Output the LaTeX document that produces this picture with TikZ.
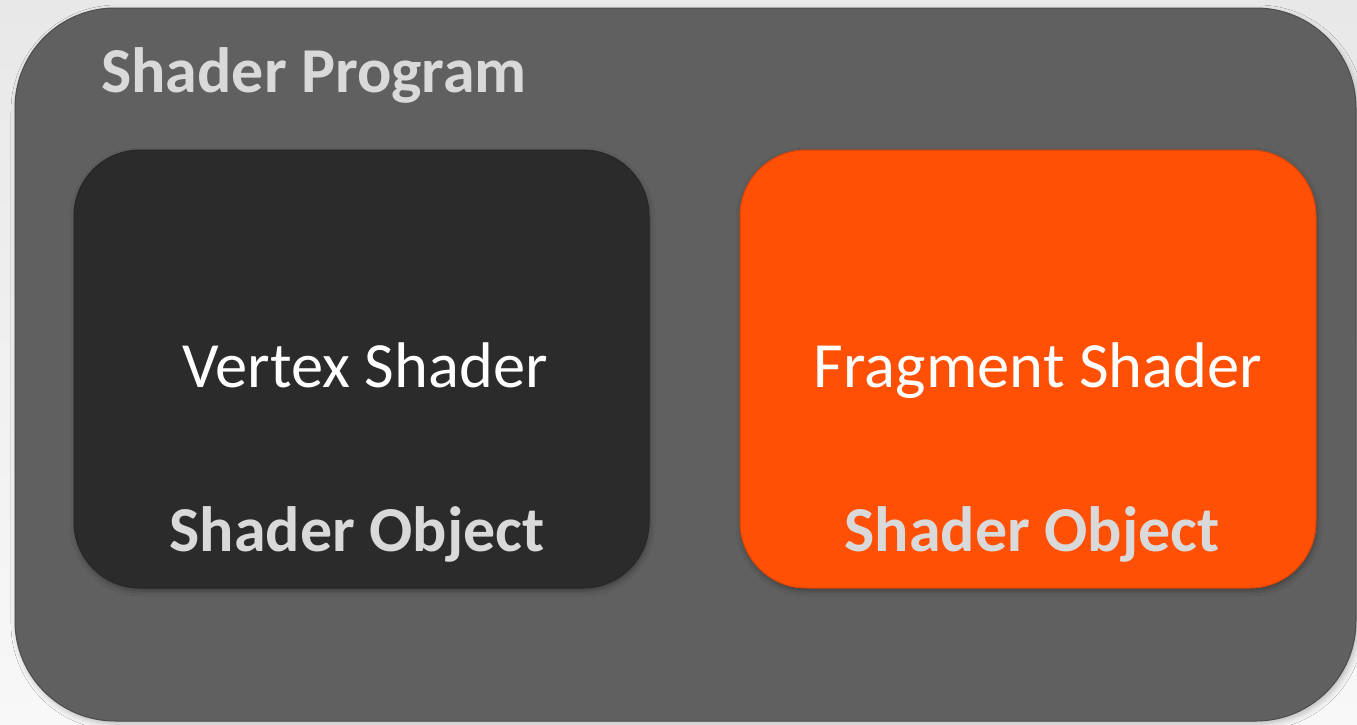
\documentclass[tikz,border=0pt]{standalone}
\usepackage{fontspec}
\setmainfont{Carlito}
\usetikzlibrary{shadows.blur}
\definecolor{bgtop}{HTML}{E8E8E8}
\definecolor{bgbot}{HTML}{F8F8F8}
\definecolor{panel}{HTML}{606060}
\definecolor{darkbox}{HTML}{2B2B2B}
\definecolor{orangebox}{HTML}{FF5005}
\definecolor{labelgray}{HTML}{D9D9D9}
\tikzset{
  container/.style={rounded corners=100pt, fill=panel, draw=black!70, line width=1pt,
    blur shadow={shadow xshift=2pt, shadow yshift=-3pt, shadow blur radius=6pt, shadow opacity=25}},
  objbox/.style={rounded corners=66pt, line width=1pt,
    blur shadow={shadow xshift=1pt, shadow yshift=-3pt, shadow blur radius=5pt, shadow opacity=35}},
  titletext/.style={text=labelgray, font=\bfseries\fontsize{64}{76}\selectfont, anchor=base west, inner sep=0pt},
  nametext/.style={text=white, font=\fontsize{64.5}{76}\selectfont, anchor=base, inner sep=0pt},
  objtext/.style={text=labelgray, font=\bfseries\fontsize{64}{76}\selectfont, anchor=base, inner sep=0pt}
}
\begin{document}
\begin{tikzpicture}[x=1pt, y=-1pt]
  % canvas with a soft vertical gradient
  \shade[top color=bgtop, bottom color=bgbot] (0,0) rectangle (1357,724);
  \useasboundingbox (0,0) rectangle (1357,724);
  % the program panel
  \path[container] (15,8) rectangle (1356,721);
  \node[titletext] (title) at (101,92) {Shader Program};
  % vertex shader object
  \path[objbox, fill=darkbox, draw=black!85] (74,150) rectangle (649,588);
  \node[nametext] (vname) at (365,387) {Vertex Shader};
  \node[objtext] (vobj) at (357,551) {Shader Object};
  % fragment shader object
  \path[objbox, fill=orangebox, draw=orangebox!85!black] (740,150) rectangle (1316,588);
  \node[nametext] (fname) at (1038,387) {Fragment Shader};
  \node[objtext] (fobj) at (1032,551) {Shader Object};
\end{tikzpicture}
\end{document}
